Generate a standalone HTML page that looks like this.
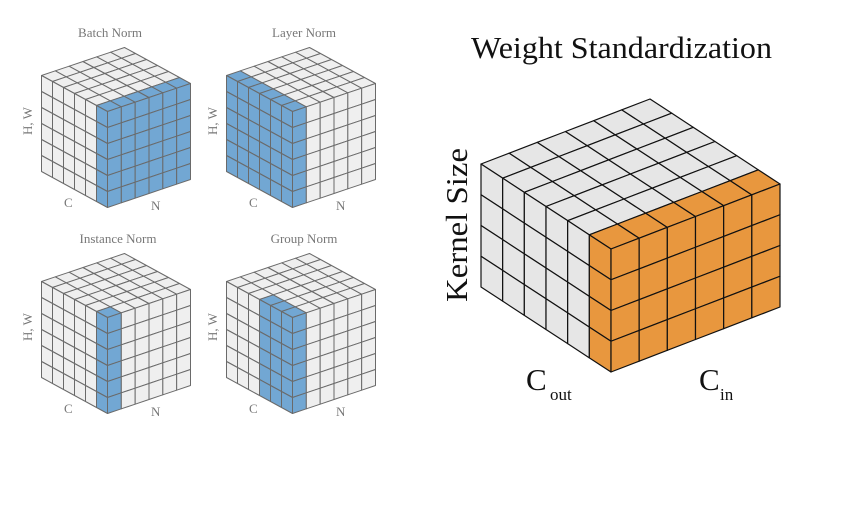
<!DOCTYPE html>
<html><head><meta charset="utf-8"><style>
html,body{margin:0;padding:0;background:#fff;width:842px;height:518px;overflow:hidden}
svg{display:block}
.s{font-family:"Liberation Serif",serif;fill:#777;font-size:13px}
.b{font-family:"Liberation Serif",serif;fill:#111}
</style></head><body>
<svg id="sv" width="842" height="518" viewBox="0 0 842 518" xmlns="http://www.w3.org/2000/svg">
<g id="cubes"></g>
<text class="s" x="110" y="37" text-anchor="middle">Batch Norm</text>
<text class="s" x="304" y="37" text-anchor="middle">Layer Norm</text>
<text class="s" x="118" y="243" text-anchor="middle">Instance Norm</text>
<text class="s" x="304" y="243" text-anchor="middle">Group Norm</text>
<text class="s" transform="translate(32,121) rotate(-90)" text-anchor="middle">H, W</text>
<text class="s" transform="translate(217,121) rotate(-90)" text-anchor="middle">H, W</text>
<text class="s" transform="translate(32,327) rotate(-90)" text-anchor="middle">H, W</text>
<text class="s" transform="translate(217,327) rotate(-90)" text-anchor="middle">H, W</text>
<text class="s" x="64" y="207">C</text><text class="s" x="151" y="210">N</text>
<text class="s" x="249" y="207">C</text><text class="s" x="336" y="210">N</text>
<text class="s" x="64" y="413">C</text><text class="s" x="151" y="416">N</text>
<text class="s" x="249" y="413">C</text><text class="s" x="336" y="416">N</text>
<text class="b" x="471" y="58" font-size="31" textLength="301" lengthAdjust="spacingAndGlyphs">Weight Standardization</text>
<text class="b" transform="translate(467,225) rotate(-90)" text-anchor="middle" font-size="31" textLength="154" lengthAdjust="spacingAndGlyphs">Kernel Size</text>
<text class="b" x="526" y="390" font-size="31">C</text><text class="b" x="550" y="400" font-size="17">out</text>
<text class="b" x="699" y="390" font-size="31">C</text><text class="b" x="720" y="400" font-size="17">in</text>
</svg>
<script>
(function(){
var g=document.getElementById('cubes'),NS='http://www.w3.org/2000/svg';
function poly(pts,fill,stroke,sw){var p=document.createElementNS(NS,'polygon');
p.setAttribute('points',pts.map(function(q){return q[0].toFixed(2)+','+q[1].toFixed(2)}).join(' '));
p.setAttribute('fill',fill);p.setAttribute('stroke',stroke);p.setAttribute('stroke-width',sw);p.setAttribute('stroke-linejoin','round');g.appendChild(p);}
function cube(L,F,R,H,NC,NN,NR,base,hi,stroke,sw,isHi){
var u=[(F[0]-L[0])/NC,(F[1]-L[1])/NC],v=[(R[0]-F[0])/NN,(R[1]-F[1])/NN],h=H/NR;
function P(o,a,b,c,d,r){return [o[0]+a*u[0]+b*v[0],o[1]+a*u[1]+b*v[1]+r*h];}
var c,n,r;
for(c=0;c<NC;c++)for(n=0;n<NN;n++){poly([P(L,c,n,0,0,0),P(L,c+1,n,0,0,0),P(L,c+1,n+1,0,0,0),P(L,c,n+1,0,0,0)],isHi(c,n)?hi:base,stroke,sw);}
for(c=0;c<NC;c++)for(r=0;r<NR;r++){poly([P(L,c,0,0,0,r),P(L,c+1,0,0,0,r),P(L,c+1,0,0,0,r+1),P(L,c,0,0,0,r+1)],isHi(c,0)?hi:base,stroke,sw);}
for(n=0;n<NN;n++)for(r=0;r<NR;r++){poly([P(F,0,n,0,0,r),P(F,0,n+1,0,0,r),P(F,0,n+1,0,0,r+1),P(F,0,n,0,0,r+1)],isHi(NC-1,n)?hi:base,stroke,sw);}
}
var W='#efefef',B='#72a7d3',S='#6a6a6a';
function small(dx,dy,f){cube([41.5+dx,75.5+dy],[107.5+dx,111.5+dy],[190.5+dx,83.5+dy],96,6,6,6,W,B,S,1,f);}
small(0,0,function(c,n){return c==5;});
small(185,0,function(c,n){return n==0;});
small(0,206,function(c,n){return c==5&&n==0;});
small(185,206,function(c,n){return c>=3&&n==0;});
cube([481,164],[611,249],[780,184],123,6,6,4,'#e6e6e6','#e8973e','#111',1.2,function(c,n){return c==5;});
})();
</script>
</body></html>
